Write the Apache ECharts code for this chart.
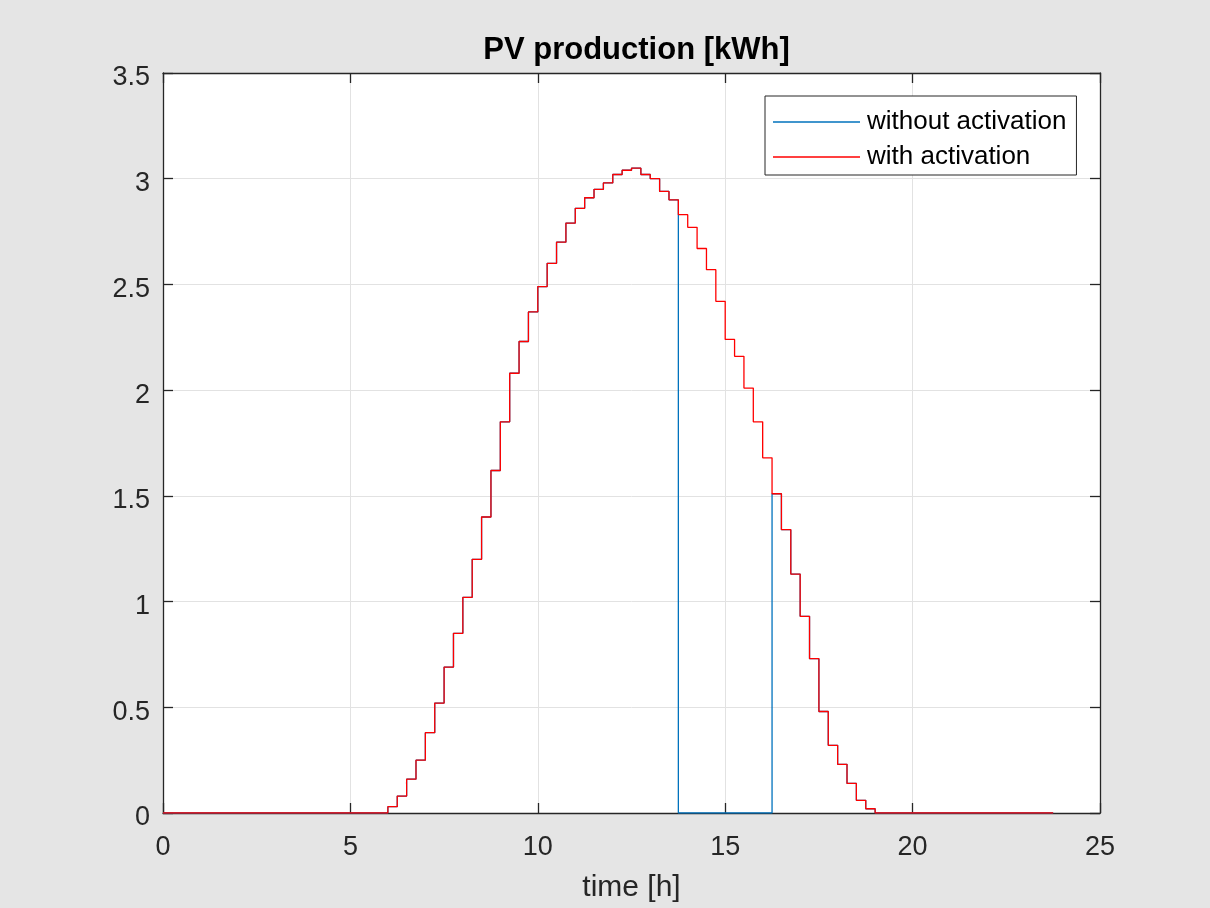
<!DOCTYPE html>
<html>
<head>
<meta charset="utf-8">
<script src="https://cdn.jsdelivr.net/npm/echarts@6/dist/echarts.min.js"></script>
<style>
html,body{margin:0;padding:0;background:#e5e5e5;}
#chart{width:1210px;height:908px;}
</style>
</head>
<body>
<div id="chart"></div>
<script>
const titleText = 'PV production [kWh]';
const xAxisName = 'time [h]';
const seriesNames = ['without activation', 'with activation'];
const stepHours = 0.25; // 15-minute resolution, 96 intervals
const xTicks = [0, 5, 10, 15, 20, 25];
const yTicks = [0, 0.5, 1, 1.5, 2, 2.5, 3, 3.5];

const withActivation = [
  0,0,0,0,0,0,0,0,0,0,0,0,0,0,0,0,0,0,0,0,0,0,0,0,
  0.03,0.08,0.16,0.25,0.38,0.52,0.69,0.85,1.02,1.20,1.40,1.62,1.85,2.08,2.23,2.37,
  2.49,2.60,2.70,2.79,2.86,2.91,2.95,2.98,3.02,3.04,3.05,3.02,3.00,2.94,2.90,
  2.83,2.77,2.67,2.57,2.42,2.24,2.16,2.01,1.85,1.68,
  1.51,1.34,1.13,0.93,0.73,0.48,0.32,0.23,0.14,0.06,0.02,
  0,0,0,0,0,0,0,0,0,0,0,0,0,0,0,0,0,0,0,0
];
const withoutActivation = [
  0,0,0,0,0,0,0,0,0,0,0,0,0,0,0,0,0,0,0,0,0,0,0,0,
  0.03,0.08,0.16,0.25,0.38,0.52,0.69,0.85,1.02,1.20,1.40,1.62,1.85,2.08,2.23,2.37,
  2.49,2.60,2.70,2.79,2.86,2.91,2.95,2.98,3.02,3.04,3.05,3.02,3.00,2.94,2.90,
  0,0,0,0,0,0,0,0,0,0,
  1.51,1.34,1.13,0.93,0.73,0.48,0.32,0.23,0.14,0.06,0.02,
  0,0,0,0,0,0,0,0,0,0,0,0,0,0,0,0,0,0,0,0
];

const hours = withActivation.map((_, i) => i * stepHours);
const pair = (vals) => vals.map((v, i) => [hours[i], v]);

const axisColor = '#262626';
const gridColor = '#e2e2e2';
const font = 'Liberation Sans, Arial, Helvetica, sans-serif';

const chart = echarts.init(document.getElementById('chart'), null, {renderer: 'canvas'});
chart.setOption({
  backgroundColor: '#e5e5e5',
  animation: false,
  title: {
    text: titleText,
    left: 631.5,
    top: 30,
    textAlign: 'center',
    textStyle: {fontFamily: font, fontSize: 31, fontWeight: 'bold', color: '#000'}
  },
  grid: {
    left: 163, top: 73, width: 937, height: 740,
    show: true, backgroundColor: '#ffffff', borderWidth: 0, containLabel: false
  },
  legend: {
    orient: 'vertical',
    left: 765, top: 96,
    padding: [13, 10, 5, 8],
    itemGap: 9,
    itemWidth: 87,
    itemHeight: 1.5,
    icon: 'rect',
    backgroundColor: '#ffffff',
    borderColor: axisColor,
    borderWidth: 1,
    borderRadius: 0,
    textStyle: {fontFamily: font, fontSize: 26, color: '#000', padding: [0,0,0,2]},
    data: seriesNames.map(n => ({name: n, icon: 'rect'}))
  },
  xAxis: [{
    type: 'value', min: xTicks[0], max: xTicks[xTicks.length-1], interval: xTicks[1]-xTicks[0],
    position: 'bottom',
    name: xAxisName, nameLocation: 'middle', nameGap: 60,
    nameTextStyle: {fontFamily: font, fontSize: 30, color: axisColor},
    axisLine: {show: true, onZero: false, lineStyle: {color: axisColor, width: 1.3}},
    axisTick: {show: true, inside: true, length: 10, lineStyle: {color: axisColor, width: 1.3}},
    axisLabel: {fontFamily: font, fontSize: 27, color: axisColor, margin: 21},
    splitLine: {show: true, lineStyle: {color: gridColor, width: 1}}
  }, {
    type: 'value', min: xTicks[0], max: xTicks[xTicks.length-1], interval: xTicks[1]-xTicks[0],
    position: 'top',
    axisLine: {show: true, onZero: false, lineStyle: {color: axisColor, width: 1.3}},
    axisTick: {show: true, inside: true, length: 10, lineStyle: {color: axisColor, width: 1.3}},
    axisLabel: {show: false},
    splitLine: {show: false}
  }],
  yAxis: [{
    type: 'value', min: yTicks[0], max: yTicks[yTicks.length-1], interval: yTicks[1]-yTicks[0],
    position: 'left',
    axisLine: {show: true, onZero: false, lineStyle: {color: axisColor, width: 1.3}},
    axisTick: {show: true, inside: true, length: 10, lineStyle: {color: axisColor, width: 1.3}},
    axisLabel: {
      margin: 13,
      formatter: (v) => '{v|' + v + '}',
      rich: {v: {fontFamily: font, fontSize: 27, color: axisColor, padding: [10, 0, 0, 0]}}
    },
    splitLine: {show: true, lineStyle: {color: gridColor, width: 1}}
  }, {
    type: 'value', min: yTicks[0], max: yTicks[yTicks.length-1], interval: yTicks[1]-yTicks[0],
    position: 'right',
    axisLine: {show: true, onZero: false, lineStyle: {color: axisColor, width: 1.3}},
    axisTick: {show: true, inside: true, length: 10, lineStyle: {color: axisColor, width: 1.3}},
    axisLabel: {show: false},
    splitLine: {show: false}
  }],
  series: [{
    name: seriesNames[0],
    type: 'line', step: 'end',
    xAxisIndex: 0, yAxisIndex: 0,
    symbol: 'none',
    color: '#0072BD',
    lineStyle: {color: '#0072BD', width: 1.3},
    data: pair(withoutActivation),
    z: 2
  }, {
    name: seriesNames[1],
    type: 'line', step: 'end',
    xAxisIndex: 0, yAxisIndex: 0,
    symbol: 'none',
    color: '#FF0000',
    lineStyle: {color: '#FF0000', width: 1.3},
    data: pair(withActivation),
    z: 3
  }]
});
</script>
</body>
</html>
